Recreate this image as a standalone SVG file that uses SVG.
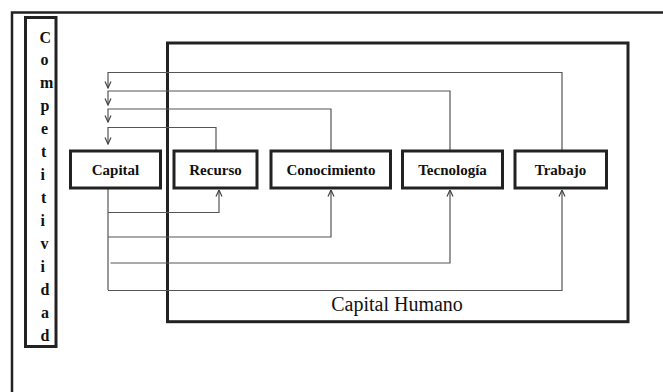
<svg xmlns="http://www.w3.org/2000/svg" width="663" height="392" viewBox="0 0 663 392">
<defs>
<marker id="arr" viewBox="0 0 8 8" refX="7.5" refY="4" markerWidth="8" markerHeight="8" markerUnits="userSpaceOnUse" orient="auto">
<path d="M1,1 L7.5,4 L1,7" fill="none" stroke="#444" stroke-width="1.2"/>
</marker>
<style>
.box{fill:#fff;stroke:#222;stroke-width:3}
.lbl{font-family:"Liberation Serif","Times New Roman",serif;font-weight:bold;font-size:15px;fill:#111;text-anchor:middle}
.vert{font-family:"Liberation Serif","Times New Roman",serif;font-weight:bold;font-size:16px;fill:#111}
.conn{fill:none;stroke:#555;stroke-width:1.2}
.arr{marker-end:url(#arr)}
</style>
</defs>
<rect width="663" height="392" fill="#fff"/>
<path d="M12,392 V12.5 H663" fill="none" stroke="#222" stroke-width="2.5"/>
<g id="competitividad">
<rect class="box" x="25.5" y="17.5" width="30.5" height="329"/>
<text class="vert">
<tspan x="39.5" y="42.5">C</tspan>
<tspan x="40.5" y="65.4">o</tspan>
<tspan x="40" y="88.4">m</tspan>
<tspan x="40.5" y="111.3">p</tspan>
<tspan x="41" y="134.2">e</tspan>
<tspan x="41" y="157.2">t</tspan>
<tspan x="40.5" y="180.1">i</tspan>
<tspan x="41" y="203">t</tspan>
<tspan x="40.5" y="225.9">i</tspan>
<tspan x="40.5" y="248.9">v</tspan>
<tspan x="40.5" y="271.8">i</tspan>
<tspan x="40.5" y="294.7">d</tspan>
<tspan x="41" y="317.6">a</tspan>
<tspan x="40.5" y="340.5">d</tspan>
</text>
</g>
<g id="capital-humano">
<rect x="167.5" y="43" width="460.5" height="278.7" fill="none" stroke="#222" stroke-width="3"/>
<text x="397" y="310.5" font-family="'Liberation Serif','Times New Roman',serif" font-size="20" fill="#111" text-anchor="middle">Capital Humano</text>
</g>
<g id="connectors">
<path class="conn arr" d="M562,151 V72.5 H108 V88"/>
<path class="conn arr" d="M450,151 V91 H108 V105"/>
<path class="conn arr" d="M331,151 V109 H108 V122"/>
<path class="conn arr" d="M216,151 V127.5 H108 V144"/>
<path class="conn" d="M108,188 V290"/>
<path class="conn arr" d="M108,212.5 H219 V190"/>
<path class="conn arr" d="M108,237 H331 V190"/>
<path class="conn arr" d="M110.5,263 H450 V190"/>
<path class="conn arr" d="M108,290.5 H562 V190"/>
</g>
<g id="capital">
<rect class="box" x="70.5" y="151" width="90" height="37"/>
<text class="lbl" x="115.5" y="175">Capital</text>
</g>
<g id="recurso">
<rect class="box" x="174" y="151" width="83" height="37"/>
<text class="lbl" x="215.5" y="175">Recurso</text>
</g>
<g id="conocimiento">
<rect class="box" x="271" y="151" width="119.5" height="37"/>
<text class="lbl" x="331" y="175">Conocimiento</text>
</g>
<g id="tecnologia">
<rect class="box" x="402.5" y="151" width="100" height="37"/>
<text class="lbl" x="452.5" y="175">Tecnología</text>
</g>
<g id="trabajo">
<rect class="box" x="515" y="151" width="91.5" height="37"/>
<text class="lbl" x="560.5" y="175">Trabajo</text>
</g>
</svg>
